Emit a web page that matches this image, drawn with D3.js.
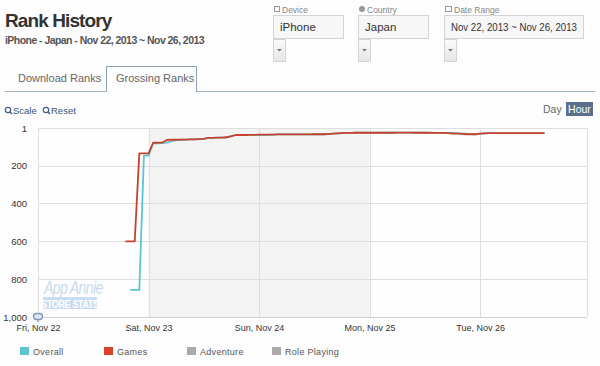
<!DOCTYPE html>
<html><head><meta charset="utf-8">
<script src="https://cdn.jsdelivr.net/npm/d3@7"></script>
<style>
body{margin:0;background:#fdfdfd;}
svg{display:block;font-family:"Liberation Sans",Arial,sans-serif;}
</style></head><body>
<script>
// ---- data ----
const yTicks = [1, 200, 400, 600, 800, 1000];
const dayTicks = ["2013-11-22", "2013-11-23", "2013-11-24", "2013-11-25", "2013-11-26"];
const legendNames = ["Overall", "Games", "Adventure", "Role Playing"];
const legendColors = ["#5cc5d2", "#d9412b", "#aaaaaa", "#aaaaaa"];
const gamesStart = "2013-11-22T19:00:00Z";
const gamesRanks = [
  600, 600, 600, 135, 135, 135, 79, 78, 78, 64,
  63, 63, 62, 62, 61, 61, 60, 59, 53, 53,
  52, 52, 50, 44, 38, 38, 38, 37, 37, 36,
  36, 36, 36, 35, 35, 35, 35, 35, 35, 35,
  35, 34, 34, 34, 33, 31, 29, 28, 27, 27,
  26, 26, 26, 26, 26, 26, 26, 26, 26, 25,
  25, 25, 25, 26, 26, 26, 26, 27, 27, 27,
  28, 30, 31, 32, 34, 33, 34, 31, 29, 28,
  28, 28, 28, 28, 28, 28, 28, 28, 28, 28,
  28, 28
];
const overallStart = "2013-11-22T20:00:00Z";
const overallRanks = [
  857, 857, 857, 147, 147, 82, 82, 81, 78, 70,
  65, 63, 62, 61, 61, 60, 59, 53, 53, 52,
  52, 50, 44, 38, 38, 38, 37, 37, 38, 38,
  37, 36, 35, 35, 35, 35, 35, 35, 35, 35,
  34, 34, 34, 33, 31, 29, 28, 27, 27, 26,
  26, 26, 26, 26, 26, 26, 26, 26, 25, 25,
  25, 25, 26, 26, 26, 26, 27, 27, 27, 27,
  27, 28, 29, 31, 33, 34, 31, 29, 28, 28,
  28, 28, 28, 28, 28, 28, 28, 28, 28, 28,
  28
];
const shadeRange = ["2013-11-23", "2013-11-25"];

// ---- build ----
const W = 600, H = 366;
const svg = d3.select("body").append("svg").attr("width", W).attr("height", H);
svg.append("rect").attr("width", W).attr("height", H).attr("fill", "#fdfdfd");

const font = '"Liberation Sans",Arial,sans-serif';

// header
svg.append("text").attr("x", 5).attr("y", 27).text("Rank History")
  .attr("font-size", 19).attr("font-weight", "bold").attr("fill", "#333").attr("letter-spacing", -0.9);
svg.append("text").attr("x", 5).attr("y", 44).text("iPhone - Japan - Nov 22, 2013 ~ Nov 26, 2013")
  .attr("font-size", 10.5).attr("font-weight", "bold").attr("fill", "#555").attr("letter-spacing", -0.55);

// controls
const controls = [
  {label: "Device", value: "iPhone", x: 273, w: 70},
  {label: "Country", value: "Japan", x: 358, w: 70},
  {label: "Date Range", value: "Nov 22, 2013 ~ Nov 26, 2013", x: 444, w: 139}
];
const defs = svg.append("defs");
controls.forEach((c, i) => {
  const g = svg.append("g");
  if (i === 0) g.append("rect").attr("x", c.x + 1.5).attr("y", 6.5).attr("width", 5).attr("height", 5).attr("fill", "none").attr("stroke", "#999");
  if (i === 1) g.append("circle").attr("cx", c.x + 4).attr("cy", 9).attr("r", 3).attr("fill", "#999");
  if (i === 2) g.append("rect").attr("x", c.x + 1.5).attr("y", 6.5).attr("width", 6).attr("height", 5).attr("fill", "none").attr("stroke", "#999");
  g.append("text").attr("x", c.x + (i === 2 ? 10 : 9)).attr("y", 13).text(c.label)
    .attr("font-size", 8.5).attr("fill", "#888");
  g.append("rect").attr("x", c.x + 0.5).attr("y", 15.5).attr("width", c.w).attr("height", 23)
    .attr("fill", "#f7f7f7").attr("stroke", "#d4d4d4");
  const tv = g.append("text").attr("x", c.x + 7).attr("y", 31).text(c.value).attr("font-size", 11.5).attr("fill", "#333");
  if (i === 2) tv.attr("textLength", 126).attr("lengthAdjust", "spacingAndGlyphs");
  const dd = defs.append("linearGradient").attr("id", "gr" + i).attr("x1", 0).attr("y1", 0).attr("x2", 0).attr("y2", 1);
  dd.append("stop").attr("offset", 0).attr("stop-color", "#fafafa");
  dd.append("stop").attr("offset", 1).attr("stop-color", "#e6e6e6");
  g.append("rect").attr("x", c.x + 0.5).attr("y", 39.5).attr("width", 12).attr("height", 22)
    .attr("fill", "url(#gr" + i + ")").attr("stroke", "#d4d4d4");
  g.append("path").attr("d", `M${c.x + 4},${49}L${c.x + 9},${49}L${c.x + 6.5},${51.5}Z`).attr("fill", "#777");
});

// tabs
svg.append("line").attr("x1", 5).attr("x2", 595).attr("y1", 91.5).attr("y2", 91.5).attr("stroke", "#a9b6c6");
svg.append("rect").attr("x", 106.5).attr("y", 66.5).attr("width", 90).attr("height", 26).attr("fill", "#fdfdfd");
svg.append("path").attr("d", "M106.5,92V66.5H196.5V92").attr("fill", "none").attr("stroke", "#8d9db2");
svg.append("text").attr("x", 18).attr("y", 82).text("Download Ranks").attr("font-size", 11).attr("fill", "#666");
svg.append("text").attr("x", 116).attr("y", 82).text("Grossing Ranks").attr("font-size", 11).attr("fill", "#666");

// scale / reset
[{t: "Scale", x: 5}, {t: "Reset", x: 43}].forEach(d => {
  svg.append("circle").attr("cx", d.x + 3).attr("cy", 110).attr("r", 2.7).attr("fill", "none").attr("stroke", "#3f5f86").attr("stroke-width", 1.2);
  svg.append("line").attr("x1", d.x + 5).attr("y1", 112).attr("x2", d.x + 7).attr("y2", 114).attr("stroke", "#3f5f86").attr("stroke-width", 1.4);
  svg.append("text").attr("x", d.x + 8).attr("y", 114).text(d.t).attr("font-size", 9.5).attr("fill", "#3b5270");
});

// day / hour
svg.append("text").attr("x", 543).attr("y", 113).text("Day").attr("font-size", 10.5).attr("fill", "#666");
svg.append("rect").attr("x", 566).attr("y", 102).attr("width", 27).attr("height", 14).attr("fill", "#5b6f8c");
svg.append("text").attr("x", 579.5).attr("y", 113).attr("text-anchor", "middle").text("Hour").attr("font-size", 10.5).attr("fill", "#fff");

// scales
const parse = d3.utcParse("%Y-%m-%d");
const t0 = new Date("2013-11-22T00:00:00Z"), t1 = new Date("2013-11-26T23:00:00Z");
const x = d3.scaleUtc().domain([t0, t1]).range([38, 586]);
const y = d3.scaleLinear().domain([1, 1000]).range([128, 317]);

// plot background & shading
svg.append("rect").attr("x", 38).attr("y", 128).attr("width", 548).attr("height", 189).attr("fill", "#fefefe");
svg.append("rect").attr("x", x(parse(shadeRange[0]))).attr("y", 128)
  .attr("width", x(parse(shadeRange[1])) - x(parse(shadeRange[0]))).attr("height", 189).attr("fill", "#f3f3f3");

// gridlines
svg.append("g").selectAll("line").data(yTicks).join("line")
  .attr("x1", 38).attr("x2", 587).attr("y1", d => Math.round(y(d)) + 0.5).attr("y2", d => Math.round(y(d)) + 0.5)
  .attr("stroke", "#dedede");
svg.append("g").selectAll("line").data(dayTicks.map(parse)).join("line")
  .attr("x1", d => Math.round(x(d)) + 0.5).attr("x2", d => Math.round(x(d)) + 0.5).attr("y1", 128).attr("y2", 317)
  .attr("stroke", "#dedede");
svg.append("line").attr("x1", 587.5).attr("x2", 587.5).attr("y1", 128).attr("y2", 317).attr("stroke", "#dedede");
svg.append("line").attr("x1", 38).attr("x2", 587).attr("y1", 317.5).attr("y2", 317.5).attr("stroke", "#cfcfcf");

// watermark
svg.append("text").attr("transform", "translate(44,294) scale(0.78,1)").text("App Annie")
  .attr("font-size", 18).attr("font-style", "italic").attr("fill", "#c9dbee").attr("letter-spacing", -0.8);
svg.append("rect").attr("x", 43).attr("y", 297).attr("width", 54).attr("height", 12).attr("fill", "#cadcef");
svg.append("text").attr("transform", "translate(70,307.5) scale(0.8,1)").attr("text-anchor", "middle").text("STORE STATS")
  .attr("font-size", 11).attr("font-weight", "bold").attr("fill", "#fff").attr("letter-spacing", -0.3);

// axes
const yAxis = d3.axisLeft(y).tickValues(yTicks).tickFormat(d3.format(",")).tickSize(0).tickPadding(11);
const ya = svg.append("g").attr("transform", "translate(38,0)").call(yAxis);
ya.select(".domain").remove();
ya.selectAll("text").attr("font-size", 9.5).attr("fill", "#333").attr("font-family", font);

const xAxis = d3.axisBottom(x).tickValues(dayTicks.map(parse)).tickFormat(d3.utcFormat("%a, %b %d")).tickSize(0).tickPadding(8);
const xa = svg.append("g").attr("transform", "translate(0,317)").call(xAxis);
xa.select(".domain").remove();
xa.selectAll("text").attr("font-size", 9).attr("fill", "#333").attr("font-family", font);

// series
const hour = 3600 * 1000;
const toPts = (start, arr) => arr.map((v, i) => ({t: new Date(+new Date(start) + i * hour), v}));
const line = d3.line().x(d => x(d.t)).y(d => y(d.v));
svg.append("path").datum(toPts(overallStart, overallRanks)).attr("d", line)
  .attr("fill", "none").attr("stroke", legendColors[0]).attr("stroke-width", 1.8).attr("stroke-linejoin", "round");
svg.append("path").datum(toPts(gamesStart, gamesRanks)).attr("d", line)
  .attr("fill", "none").attr("stroke", "#c9402c").attr("stroke-width", 1.8).attr("stroke-linejoin", "round");

// little icon bottom-left
svg.append("rect").attr("x", 33.5).attr("y", 313.5).attr("width", 9).attr("height", 6).attr("rx", 3)
  .attr("fill", "#dfe7f1").attr("stroke", "#7f98b8").attr("stroke-width", 1.3);
svg.append("line").attr("x1", 38).attr("x2", 38).attr("y1", 320).attr("y2", 322).attr("stroke", "#7f98b8").attr("stroke-width", 1.3);

// legend
const lx = [20, 104, 187, 272];
const lg = svg.append("g").selectAll("g").data(legendNames).join("g")
  .attr("transform", (d, i) => `translate(${lx[i]},347)`);
lg.append("rect").attr("width", 9).attr("height", 8).attr("fill", (d, i) => legendColors[i]);
lg.append("text").attr("x", 13).attr("y", 7.5).text(d => d).attr("font-size", 9).attr("fill", "#555").attr("letter-spacing", 0.3);
</script>
</body></html>
